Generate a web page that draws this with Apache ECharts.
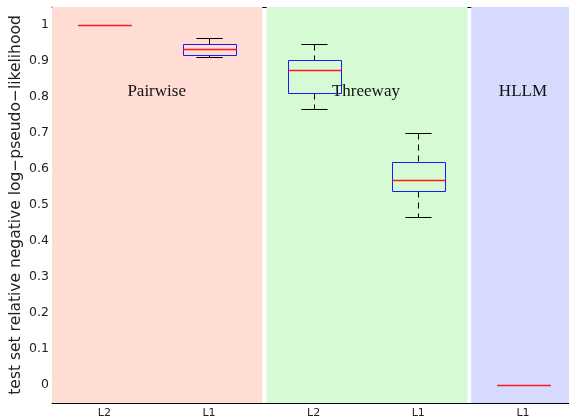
<!DOCTYPE html>
<html>
<head>
<meta charset="utf-8">
<script src="https://cdn.jsdelivr.net/npm/echarts@6/dist/echarts.min.js"></script>
<style>
  html, body { margin: 0; padding: 0; background: #fff; }
  #chart { width: 569px; height: 420px; }
</style>
</head>
<body>
<div id="chart"></div>
<script>
// Box positions along the x axis and their tick labels
const positions = [1, 2, 3, 4, 5];
const categories = ['L2', 'L1', 'L2', 'L1', 'L1'];

// Five-number summaries of test set relative negative log-pseudo-likelihood
const whiskerLow  = [1.000, 0.912, 0.766, 0.467, 0.000];
const q1          = [1.000, 0.916, 0.810, 0.539, 0.000];
const median      = [1.000, 0.933, 0.875, 0.570, 0.000];
const q3          = [1.000, 0.948, 0.902, 0.619, 0.000];
const whiskerHigh = [1.000, 0.965, 0.946, 0.700, 0.000];

// Model families shaded behind the boxes
const regions = ['Pairwise', 'Threeway', 'HLLM'];
const regionStart = [0.5, 2.55, 4.505];
const regionEnd = [2.51, 4.47, 5.44];
const regionLabelX = [1.5, 3.5, 5];
const regionLabelY = 0.814;
const regionColors = ['#FFDCD4', '#D6FAD4', '#D6DAFE'];

// y tick values
const yTicks = [0, 0.1, 0.2, 0.3, 0.4, 0.5, 0.6, 0.7, 0.8, 0.9, 1];

const X_MIN = 0.5, X_MAX = 5.44, Y_MIN = -0.05, Y_MAX = 1.05;

const boxData = positions.map((p, i) =>
  [p, whiskerLow[i], q1[i], median[i], q3[i], whiskerHigh[i]]);
const bandData = regions.map((r, i) =>
  [regionStart[i], regionEnd[i], regionLabelX[i], regionLabelY, i]);

// snap a coordinate onto the pixel grid so 1px strokes stay crisp
const crisp = v => Math.round(v) + 0.5;

const chart = echarts.init(document.getElementById('chart'), null, { renderer: 'canvas' });

chart.setOption({
  animation: false,
  backgroundColor: '#ffffff',
  grid: { left: 52, top: 7, right: 0, bottom: 17, containLabel: false, outerBoundsMode: 'none' },
  xAxis: [{
    type: 'value',
    min: X_MIN, max: X_MAX,
    axisLine: { show: true, onZero: false, lineStyle: { color: '#000', width: 1 } },
    axisTick: { show: false },
    splitLine: { show: false },
    axisLabel: {
      customValues: positions,
      formatter: v => categories[positions.indexOf(Math.round(v))] || '',
      fontFamily: 'DejaVu Sans', fontSize: 11, color: '#222', margin: 5
    }
  }, {
    type: 'value',
    position: 'top',
    min: X_MIN, max: X_MAX,
    axisLine: { show: true, onZero: false, lineStyle: { color: '#000', width: 1 } },
    axisTick: { show: false },
    axisLabel: { show: false },
    splitLine: { show: false }
  }],
  yAxis: {
    type: 'value',
    min: Y_MIN, max: Y_MAX,
    name: 'test set relative negative log\u2212pseudo\u2212likelihood',
    nameLocation: 'middle',
    nameRotate: 90,
    nameGap: 28,
    nameMoveOverlap: false,
    nameTextStyle: { fontFamily: 'DejaVu Sans', fontSize: 15.5, color: '#222' },
    axisLine: { show: true, onZero: false, lineStyle: { color: '#000', width: 1 } },
    axisTick: { show: true, inside: true, length: 4, customValues: yTicks, lineStyle: { color: '#000' } },
    splitLine: { show: false },
    axisLabel: {
      customValues: yTicks,
      formatter: v => String(Math.round(v * 10) / 10),
      fontFamily: 'DejaVu Sans', fontSize: 12.5, color: '#222', margin: 3
    }
  },
  series: [{
    // shaded model-family bands with their names
    type: 'custom',
    z: 1,
    data: bandData,
    renderItem: (params, api) => {
      const s = api.value(0), e = api.value(1);
      const tl = api.coord([s, Y_MAX]);
      const br = api.coord([e, Y_MIN]);
      const lab = api.coord([api.value(2), api.value(3)]);
      const idx = api.value(4);
      return {
        type: 'group',
        children: [{
          type: 'rect',
          shape: { x: tl[0], y: tl[1], width: br[0] - tl[0], height: br[1] - tl[1] },
          style: { fill: regionColors[idx] }
        }, {
          type: 'text',
          z2: 5,
          style: {
            x: lab[0], y: lab[1],
            text: regions[idx],
            font: '17px "Liberation Serif", "Times New Roman", serif',
            fill: '#111',
            align: 'center', verticalAlign: 'middle'
          }
        }]
      };
    }
  }, {
    // whiskers, caps and boxes
    type: 'custom',
    z: 3,
    data: boxData,
    renderItem: (params, api) => {
      const x = api.value(0);
      const boxW = api.size([0.5, 0])[0];
      const capW = api.size([0.25, 0])[0];
      const lo = crisp(api.coord([x, api.value(1)])[1]);
      const b1 = crisp(api.coord([x, api.value(2)])[1]);
      const b3 = crisp(api.coord([x, api.value(4)])[1]);
      const hi = crisp(api.coord([x, api.value(5)])[1]);
      const cx = crisp(api.coord([x, 0])[0]);
      const bl = crisp(cx - boxW / 2), br = crisp(cx + boxW / 2);
      const dash = { stroke: '#000', lineWidth: 1, lineDash: [6, 5] };
      const solid = { stroke: '#000', lineWidth: 1 };
      const children = [];
      if (hi < b3) children.push({ type: 'line', shape: { x1: cx, y1: hi, x2: cx, y2: b3 }, style: dash });
      if (lo > b1) children.push({ type: 'line', shape: { x1: cx, y1: b1, x2: cx, y2: lo }, style: dash });
      children.push(
        { type: 'line', shape: { x1: cx - capW / 2, y1: hi, x2: cx + capW / 2, y2: hi }, style: solid },
        { type: 'line', shape: { x1: cx - capW / 2, y1: lo, x2: cx + capW / 2, y2: lo }, style: solid },
        { type: 'rect', shape: { x: bl, y: b3, width: br - bl, height: Math.max(b1 - b3, 0) },
          style: { fill: 'none', stroke: '#1a1aff', lineWidth: 1 } }
      );
      return { type: 'group', children };
    }
  }, {
    // median lines, drawn above the boxes
    type: 'custom',
    z: 4,
    data: boxData,
    renderItem: (params, api) => {
      const x = api.value(0);
      const boxW = api.size([0.5, 0])[0];
      const cx = crisp(api.coord([x, 0])[0]);
      const md = crisp(api.coord([x, api.value(3)])[1]);
      return {
        type: 'line',
        shape: { x1: crisp(cx - boxW / 2), y1: md, x2: crisp(cx + boxW / 2), y2: md },
        style: { stroke: '#ff1a1a', lineWidth: 1.3 }
      };
    }
  }]
});
</script>
</body>
</html>
